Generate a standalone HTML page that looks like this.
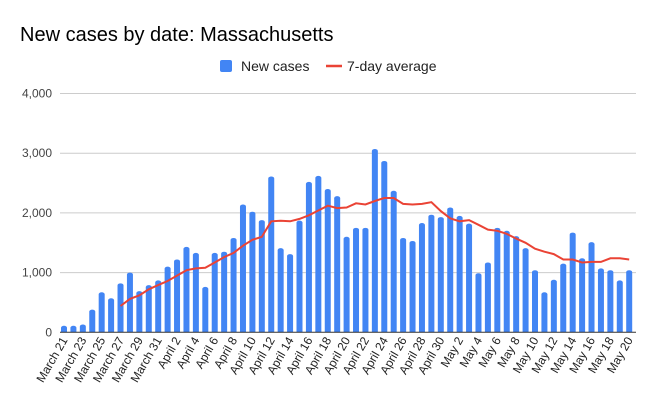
<!DOCTYPE html>
<html><head><meta charset="utf-8"><style>body{margin:0;background:#fff}svg{display:block;font-family:"Liberation Sans",Arial,sans-serif}</style></head>
<body>
<svg id="s" width="656" height="406" xmlns="http://www.w3.org/2000/svg">
<text x="20" y="41" font-size="20" fill="#000">New cases by date: Massachusetts</text>
<rect x="220" y="60" width="12" height="12" rx="2" fill="#4285f4"/>
<text x="241" y="71" font-size="14" fill="#222">New cases</text>
<line x1="326" y1="66" x2="342" y2="66" stroke="#ea4335" stroke-width="2.5"/>
<text x="347" y="71" font-size="14" fill="#222">7-day average</text>
<g id="g"></g>
</svg>
<script>
var v=[110,110,130,380,670,570,820,1000,690,790,870,1100,1220,1430,1330,760,1330,1350,1580,2140,2020,1880,2610,1410,1310,1870,2520,2620,2400,2280,1600,1750,1750,3070,2870,2370,1580,1530,1830,1970,1930,2090,1950,1820,990,1170,1750,1700,1610,1410,1040,670,880,1150,1670,1240,1510,1070,1040,870,1040];
var a=[440,560,620,720,790,860,950,1040,1070,1080,1170,1260,1330,1450,1550,1600,1860,1870,1860,1900,1960,2040,2120,2080,2090,2160,2140,2200,2250,2250,2150,2140,2150,2180,2030,1910,1860,1880,1800,1720,1700,1650,1570,1500,1400,1350,1310,1220,1220,1170,1180,1180,1240,1240,1220];
var d=[];for(var i=21;i<=31;i++)d.push("March "+i);for(i=1;i<=30;i++)d.push("April "+i);for(i=1;i<=20;i++)d.push("May "+i);
var y0=332.3,k=59.7/1000,h="";
function X(i){return 64+i*9.42}
[1000,2000,3000,4000].forEach(function(t){var y=y0-t*k;h+='<line x1="60" x2="636" y1="'+y+'" y2="'+y+'" stroke="#ccc" stroke-width="1"/>';});
[0,1000,2000,3000,4000].forEach(function(t){var y=y0-t*k;h+='<text x="52" y="'+(y+4)+'" font-size="12" fill="#444" text-anchor="end">'+(t?t.toLocaleString("en-US"):"0")+'</text>';});
v.forEach(function(t,i){var x=X(i)-3,hh=t*k;h+='<path d="M'+x+' '+y0+'V'+(y0-hh+2)+'a3 2 0 0 1 6 0V'+y0+'Z" fill="#4285f4"/>';});
h+='<line x1="60" x2="636" y1="'+y0+'" y2="'+y0+'" stroke="#333" stroke-width="1"/>';
var p=a.map(function(t,i){return X(i+6).toFixed(1)+','+(y0-t*k).toFixed(1)}).join(' ');
h+='<polyline points="'+p+'" fill="none" stroke="#ea4335" stroke-width="2"/>';
for(i=0;i<d.length;i+=2){var x=X(i)+4;h+='<text transform="translate('+x+',340) rotate(-60)" font-size="12" fill="#222" text-anchor="end">'+d[i]+'</text>';}
document.getElementById("g").innerHTML=h;
</script>
</body></html>
